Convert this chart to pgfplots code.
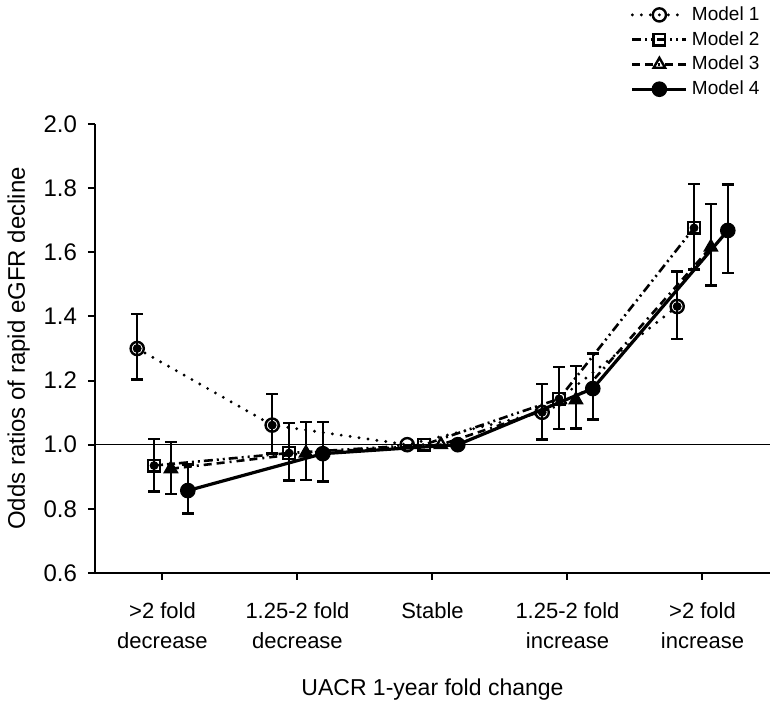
\documentclass[border=0pt]{standalone}
\usepackage{fontspec}
\setmainfont{Liberation Sans}
\usepackage{pgfplots}
\pgfplotsset{compat=1.18}
\usepackage{pgfplotstable}

\pgfplotstableread{
x y ep em
-0.1875 1.300 0.108 0.097
0.8125 1.061 0.097 0.089
1.8125 1.000 0 0
2.8125 1.101 0.089 0.085
3.8125 1.431 0.109 0.101
}\mone
\pgfplotstableread{
x y ep em
-0.0625 0.935 0.083 0.081
0.9375 0.974 0.094 0.086
1.9375 1.000 0 0
2.9375 1.143 0.099 0.094
3.9375 1.676 0.137 0.130
}\mtwo
\pgfplotstableread{
x y ep em
0.0625 0.925 0.083 0.078
1.0625 0.974 0.096 0.084
2.0625 1.000 0 0
3.0625 1.140 0.106 0.090
4.0625 1.616 0.135 0.119
}\mthree
\pgfplotstableread{
x y ep em
0.1875 0.857 0.081 0.072
1.1875 0.972 0.098 0.087
2.1875 1.000 0 0
3.1875 1.175 0.109 0.097
4.1875 1.668 0.143 0.133
}\mfour

\begin{document}
\begin{tikzpicture}
\begin{axis}[
  at={(0,0)}, anchor=south west,
  scale only axis,
  width=337.5pt, height=224.5pt,
  xmin=-0.5, xmax=4.5,
  ymin=0.6, ymax=2.0,
  axis x line=bottom, axis y line=left,
  axis line style={-, line width=1pt},
  tick style={line width=1pt, black},
  major tick length=3.5pt,
  tick align=outside,
  xtick={0,1,2,3,4},
  xticklabels={{>2 fold\\decrease},{1.25-2 fold\\decrease},{Stable},{1.25-2 fold\\increase},{>2 fold\\increase}},
  xticklabel style={align=center, font=\fontsize{11}{15}\selectfont, yshift=-8pt},
  ytick={0.6,0.8,...,2.01},
  yticklabel style={/pgf/number format/.cd, fixed, fixed zerofill, precision=1, /tikz/.cd, font=\fontsize{12}{14}\selectfont, xshift=-2pt},
  /pgf/number format/assume math mode=true,
  xlabel={UACR 1-year fold change},
  ylabel={Odds ratios of rapid eGFR decline},
  xlabel style={at={(axis description cs:0.5,-0.26)}, anchor=center, font=\fontsize{11.5}{14}\selectfont},
  ylabel style={at={(axis description cs:-0.113,0.5)}, anchor=center, font=\fontsize{12}{14}\selectfont},
  clip=false,
  legend style={at={(axis description cs:1,1)}, anchor=south east, xshift=0pt, yshift=9pt,
    draw=none, fill=none, font=\fontsize{9.5}{11}\selectfont, row sep=0pt,
    legend cell align=left},
  legend image code/.code={
    \draw[mark repeat=2, mark phase=2] plot coordinates {(0pt,0pt) (13.5pt,0pt) (27pt,0pt)};
  },
  error bars/error bar style={line width=1.2pt, black, solid},
  error bars/error mark options={rotate=90, mark size=3pt, line width=1.2pt, black, solid},
]
\addplot[forget plot, black, line width=0.5pt] coordinates {(-0.5,1) (4.5,1)};

\addplot[black, line width=1.6pt, line cap=round, dash pattern=on 0pt off 4.5pt,
  mark=o, mark size=3.3pt, mark options={solid, line width=1.2pt}]
  table[x=x, y=y] {\mone};
\addlegendentry{Model 1}
\addplot[black, line width=1.3pt, dash pattern=on 4.5pt off 2pt on 1pt off 2pt on 1pt off 2pt,
  mark=square, mark size=2.9pt, mark options={solid, line width=1.2pt}]
  table[x=x, y=y] {\mtwo};
\addlegendentry{Model 2}
\addplot[black, line width=1.3pt, dash pattern=on 4pt off 2.5pt on 4pt off 2.5pt on 1pt off 2.5pt,
  mark=triangle, mark size=3.3pt, mark options={solid, line width=1.2pt}]
  table[x=x, y=y] {\mthree};
\addlegendentry{Model 3}
\addplot[black, line width=1.6pt,
  mark=*, mark size=3.1pt, mark options={solid, fill=black}]
  table[x=x, y=y] {\mfour};
\addlegendentry{Model 4}

% 95% confidence intervals (none at the reference category "Stable")
\addplot[forget plot, black, only marks, mark=none,
  error bars/.cd, y dir=both, y explicit]
  table[x=x, y=y, y error plus=ep, y error minus=em, skip coords between index={2}{3}] {\mone};
\addplot[forget plot, black, only marks, mark=none,
  error bars/.cd, y dir=both, y explicit]
  table[x=x, y=y, y error plus=ep, y error minus=em, skip coords between index={2}{3}] {\mtwo};
\addplot[forget plot, black, only marks, mark=none,
  error bars/.cd, y dir=both, y explicit]
  table[x=x, y=y, y error plus=ep, y error minus=em, skip coords between index={2}{3}] {\mthree};
\addplot[forget plot, black, only marks, mark=none,
  error bars/.cd, y dir=both, y explicit]
  table[x=x, y=y, y error plus=ep, y error minus=em, skip coords between index={2}{3}] {\mfour};
\end{axis}
\pgfresetboundingbox
\path[use as bounding box] (-47.5pt,-65.5pt) rectangle (339pt,286.5pt);
\end{tikzpicture}
\end{document}
